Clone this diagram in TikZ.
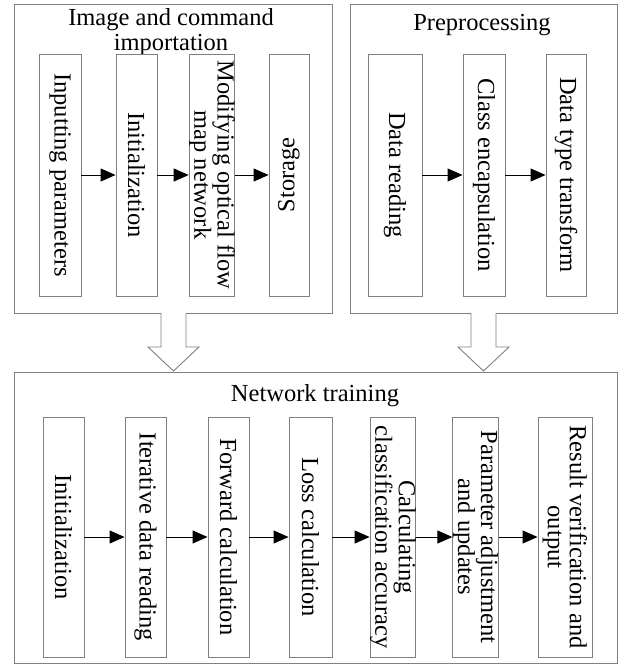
\documentclass[tikz,border=0pt]{standalone}
\usepackage{fontspec}
\setmainfont{Liberation Serif}
\usetikzlibrary{arrows.meta}
\begin{document}
\begin{tikzpicture}[x=1pt,y=-1pt,
  grpbox/.style={draw=black!50,line width=0.9pt,inner sep=0pt},
  stepbox/.style={draw=black!50,line width=0.9pt,fill=white,inner sep=0pt,align=center,
    font=\fontsize{24.5}{22}\selectfont,rotate=-90},
  titletext/.style={align=center,inner sep=0pt,font=\fontsize{24.5}{25}\selectfont},
  flow/.style={-{Triangle[length=15pt,width=13pt]},line width=1pt,black},
  hollow/.style={draw=black!50,line width=0.9pt,fill=white}]
\useasboundingbox (0,0) rectangle (631,664);
% group boxes
\node[grpbox,minimum width=318pt,minimum height=309pt] (g1) at (173,158.5) {};
\node[grpbox,minimum width=267pt,minimum height=309pt] (g2) at (483.5,158.5) {};
\node[grpbox,minimum width=603pt,minimum height=291pt] (g3) at (315.5,517.5) {};
% titles
\node[titletext] (t1) at (171,32) {Image and command\\importation};
\node[titletext] (t2) at (482,25) {Preprocessing};
\node[titletext] (t3) at (315,396) {Network training};
% group 1
\node[stepbox,minimum width=242pt,minimum height=42pt] (a1) at (60,175) {Inputting parameters};
\node[stepbox,minimum width=242pt,minimum height=41pt] (a2) at (136.5,175) {Initialization};
\node[stepbox,minimum width=242pt,minimum height=40pt] (a3) at (212,175) {Modifying optical flow\\map network};
\node[stepbox,rotate=180,minimum width=242pt,minimum height=40pt] (a4) at (289,175) {Storage};
% group 2
\node[stepbox,minimum width=242pt,minimum height=54pt] (b1) at (395,175) {Data reading};
\node[stepbox,minimum width=242pt,minimum height=42pt] (b2) at (484,175) {Class encapsulation};
\node[stepbox,minimum width=242pt,minimum height=40pt] (b3) at (566,175) {Data type transform};
% group 3
\node[stepbox,minimum width=240pt,minimum height=41pt] (c1) at (63.5,537) {Initialization};
\node[stepbox,minimum width=240pt,minimum height=41pt] (c2) at (145.5,537) {Iterative data reading};
\node[stepbox,minimum width=240pt,minimum height=41pt] (c3) at (228.5,537) {Forward calculation};
\node[stepbox,minimum width=240pt,minimum height=43pt] (c4) at (310.5,537) {Loss calculation};
\node[stepbox,minimum width=240pt,minimum height=40pt] (c5) at (393,537) {Calculating\\classification accuracy};
\node[stepbox,minimum width=240pt,minimum height=41pt] (c6) at (475.5,537) {Parameter adjustment\\and updates};
\node[stepbox,minimum width=240pt,minimum height=54pt] (c7) at (565,537) {Result verification and\\output};
% flow arrows
\draw[flow] (a1) -- (a2);
\draw[flow] (a2) -- (a3);
\draw[flow] (a3) -- (a4);
\draw[flow] (b1) -- (b2);
\draw[flow] (b2) -- (b3);
\draw[flow] (c1) -- (c2);
\draw[flow] (c2) -- (c3);
\draw[flow] (c3) -- (c4);
\draw[flow] (c4) -- (c5);
\draw[flow] (c5) -- (c6);
\draw[flow] (c6) -- (c7);
% hollow arrows
\coordinate (h1) at (161,313);
\coordinate (h2) at (471,313);
\draw[hollow] (h1) -- ++(0,34) -- ++(-13,0) -- ++(25.5,24) -- ++(25.5,-24) -- ++(-13,0) -- ++(0,-34);
\draw[hollow] (h2) -- ++(0,34) -- ++(-13,0) -- ++(25.5,24) -- ++(25.5,-24) -- ++(-13,0) -- ++(0,-34);
\end{tikzpicture}
\end{document}
